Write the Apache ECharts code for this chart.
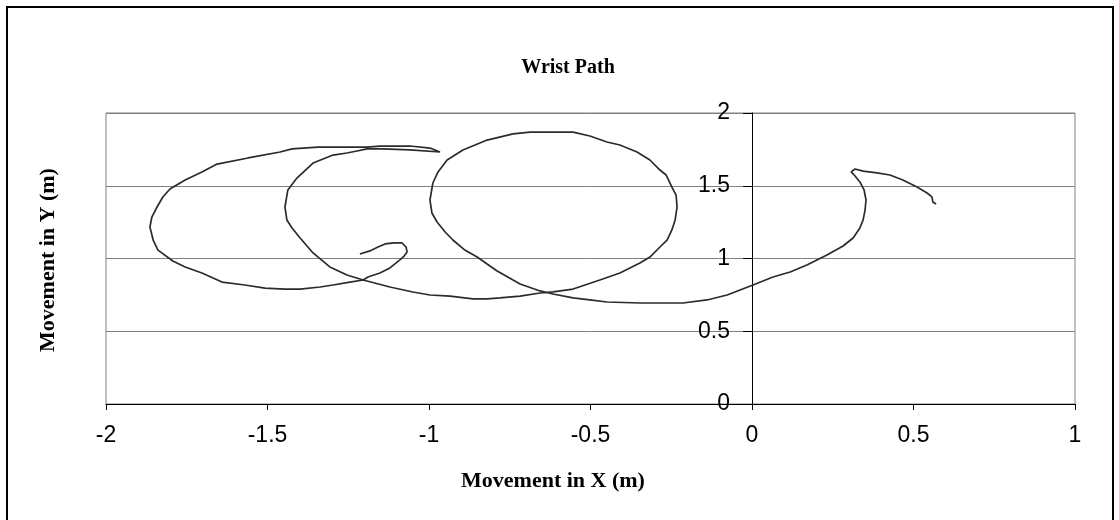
<!DOCTYPE html>
<html>
<head>
<meta charset="utf-8">
<title>Wrist Path</title>
<script src="https://cdn.jsdelivr.net/npm/echarts@6/dist/echarts.min.js"></script>
<style>
  html, body { margin: 0; padding: 0; background: #fff; }
  #chart { width: 1119px; height: 520px; }
</style>
</head>
<body>
<div id="chart"></div>
<script>
// wrist path, one continuous trace (x, y in metres)
const pathX = [
  -1.214, -1.183, -1.158, -1.136, -1.108, -1.084, -1.071, -1.068, -1.077, -1.090,
  -1.121, -1.152, -1.189, -1.204, -1.245, -1.297, -1.337, -1.399, -1.446, -1.508,
  -1.570, -1.641, -1.703, -1.755, -1.793, -1.839, -1.854, -1.864, -1.858, -1.842,
  -1.824, -1.802, -1.755, -1.703, -1.656, -1.560, -1.461, -1.424, -1.344, -1.260,
  -1.192, -1.152, -1.059, -0.997, -0.966, -1.059, -1.142, -1.192, -1.223, -1.254,
  -1.297, -1.359, -1.409, -1.437, -1.446, -1.440, -1.424, -1.399, -1.359, -1.307,
  -1.254, -1.204, -1.121, -1.050, -0.997, -0.935, -0.864, -0.820, -0.780, -0.718,
  -0.656, -0.616, -0.554, -0.471, -0.409, -0.347, -0.316, -0.285, -0.263, -0.248,
  -0.238, -0.232, -0.235, -0.248, -0.266, -0.285, -0.316, -0.356, -0.409, -0.449,
  -0.502, -0.554, -0.687, -0.740, -0.820, -0.895, -0.944, -0.972, -0.988, -0.997,
  -0.991, -0.975, -0.950, -0.926, -0.889, -0.851, -0.789, -0.718, -0.656, -0.616,
  -0.554, -0.502, -0.449, -0.347, -0.214, -0.139, -0.077, -0.037, 0.003, 0.065,
  0.118, 0.170, 0.232, 0.282, 0.313, 0.334, 0.344, 0.350, 0.353, 0.347,
  0.334, 0.319, 0.307, 0.303, 0.319, 0.344, 0.387, 0.427, 0.467, 0.511,
  0.542, 0.557, 0.560, 0.570
];
const pathY = [
  1.031, 1.052, 1.079, 1.100, 1.107, 1.107, 1.079, 1.045, 1.017, 0.990,
  0.935, 0.900, 0.873, 0.852, 0.838, 0.818, 0.804, 0.790, 0.790, 0.797,
  0.818, 0.838, 0.900, 0.942, 0.983, 1.058, 1.127, 1.216, 1.285, 1.354,
  1.423, 1.478, 1.540, 1.594, 1.649, 1.691, 1.732, 1.753, 1.766, 1.766,
  1.766, 1.773, 1.773, 1.759, 1.732, 1.746, 1.753, 1.753, 1.739, 1.725,
  1.711, 1.656, 1.553, 1.471, 1.354, 1.265, 1.210, 1.141, 1.038, 0.942,
  0.887, 0.852, 0.804, 0.770, 0.749, 0.742, 0.722, 0.722, 0.729, 0.742,
  0.763, 0.770, 0.790, 0.852, 0.900, 0.969, 1.010, 1.079, 1.127, 1.196,
  1.265, 1.354, 1.436, 1.491, 1.574, 1.608, 1.677, 1.732, 1.780, 1.801,
  1.842, 1.869, 1.869, 1.856, 1.814, 1.746, 1.677, 1.595, 1.519, 1.402,
  1.313, 1.251, 1.182, 1.127, 1.058, 1.010, 0.914, 0.825, 0.777, 0.756,
  0.729, 0.715, 0.701, 0.694, 0.694, 0.715, 0.749, 0.784, 0.818, 0.873,
  0.907, 0.955, 1.024, 1.086, 1.141, 1.210, 1.265, 1.333, 1.402, 1.471,
  1.526, 1.567, 1.595, 1.608, 1.615, 1.601, 1.588, 1.574, 1.540, 1.491,
  1.450, 1.423, 1.388, 1.375
];
const xTicks = { min: -2, max: 1, step: 0.5 };
const yTicks = { min: 0, max: 2, step: 0.5 };
const titleText = "Wrist Path";
const xName = "Movement in X (m)";
const yName = "Movement in Y (m)";

const SERIF = "'Liberation Serif', 'DejaVu Serif', serif";
const SANS = "'Liberation Sans', Arial, sans-serif";

// plot box in px; y axis sits on x = 0
const G = { left: 106, top: 113, width: 969, height: 291 };
const yAxisShift = G.width * (0 - xTicks.min) / (xTicks.max - xTicks.min);

const chart = echarts.init(document.getElementById("chart"), null, { renderer: "canvas" });
chart.setOption({
  animation: false,
  backgroundColor: "#fff",
  grid: { left: G.left, top: G.top, width: G.width, height: G.height, show: true, borderColor: "#808080", borderWidth: 1 },
  xAxis: {
    type: "value", min: xTicks.min, max: xTicks.max, interval: xTicks.step,
    axisLine: { show: true, lineStyle: { color: "#000", width: 1 } },
    axisTick: { show: true, length: 6, lineStyle: { color: "#000" } },
    axisLabel: { margin: 20, fontFamily: SANS, fontSize: 23, color: "#000" },
    splitLine: { show: false }
  },
  yAxis: {
    type: "value", min: yTicks.min, max: yTicks.max, interval: yTicks.step,
    position: "left", offset: -yAxisShift,
    axisLine: { show: true, onZero: false, lineStyle: { color: "#000", width: 1 } },
    axisTick: { show: true, length: 9, lineStyle: { color: "#000" } },
    axisLabel: { margin: 22, fontFamily: SANS, fontSize: 23, color: "#000" },
    splitLine: { show: true, lineStyle: { color: "#808080", width: 1 } }
  },
  series: [{
    type: "line",
    data: pathX.map((x, i) => [x, pathY[i]]),
    showSymbol: false, smooth: false,
    lineStyle: { color: "#2b2b2b", width: 1.7 }
  }],
  graphic: [
    { type: "rect", shape: { x: 7, y: 7, width: 1106, height: 530 }, style: { fill: "none", stroke: "#000", lineWidth: 2 }, silent: true },
    { type: "text", x: 568, y: 68, style: { text: titleText, fontFamily: SERIF, fontWeight: "bold", fontSize: 20, fill: "#000", align: "center", verticalAlign: "middle" } },
    { type: "text", x: 553, y: 481, style: { text: xName, fontFamily: SERIF, fontWeight: "bold", fontSize: 22, fill: "#000", align: "center", verticalAlign: "middle" } },
    { type: "text", x: 48, y: 260, rotation: Math.PI / 2, style: { text: yName, fontFamily: SERIF, fontWeight: "bold", fontSize: 22, fill: "#000", align: "center", verticalAlign: "middle" } }
  ]
});
</script>
</body>
</html>
